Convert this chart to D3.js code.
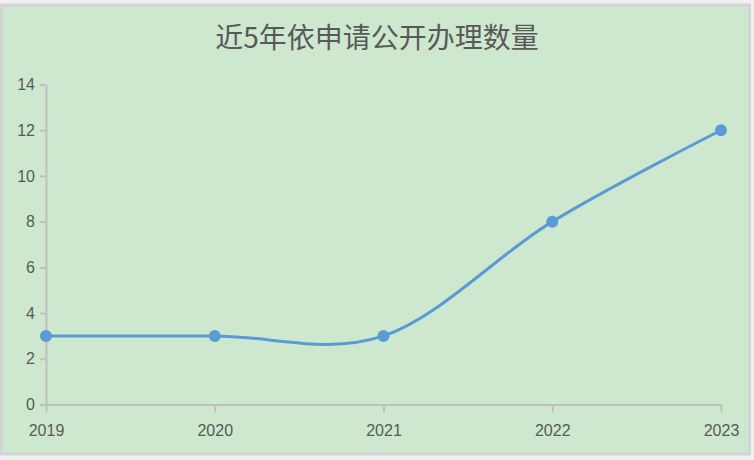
<!DOCTYPE html>
<html>
<head>
<meta charset="utf-8">
<script src="https://cdn.jsdelivr.net/npm/d3@7"></script>
<style>
  html, body { margin: 0; padding: 0; background: #f0f0f2; }
  svg { display: block; }
</style>
</head>
<body>
<svg id="chart" width="754" height="460"></svg>
<script>
// data
var years = ["2019", "2020", "2021", "2022", "2023"];
var counts = [3, 3, 3, 8, 12];
var yTicks = [0, 2, 4, 6, 8, 10, 12, 14];
var title = "近5年依申请公开办理数量";

var svg = d3.select("#chart");

// panel
svg.append("rect")
    .attr("x", 1.5)
    .attr("y", 5)
    .attr("width", 748)
    .attr("height", 449)
    .attr("fill", "#cde8cf")
    .attr("stroke", "#d4d4d4")
    .attr("stroke-width", 3);

svg.append("text")
    .attr("x", 377)
    .attr("y", 48)
    .attr("text-anchor", "middle")
    .attr("fill", "#595959")
    .style("font-family", "'Noto Sans CJK SC', sans-serif")
    .style("font-size", "28px")
    .text(title);

var x = d3.scalePoint()
    .domain(years)
    .range([46, 721]);

var y = d3.scaleLinear()
    .domain([0, 14])
    .range([404.5, 84.5]);

var axisColor = "#bfbfbf";
var labelColor = "#595959";

var gy = svg.append("g")
    .attr("transform", "translate(46,0)")
    .call(d3.axisLeft(y).tickValues(yTicks).tickSize(6).tickPadding(5).tickSizeOuter(0));

var gx = svg.append("g")
    .attr("transform", "translate(0,404.5)")
    .call(d3.axisBottom(x).tickSize(8).tickPadding(12).tickSizeOuter(0));

[gx, gy].forEach(function(g) {
    g.attr("font-family", "'Liberation Sans', sans-serif").attr("font-size", 16);
    g.select(".domain").attr("stroke", axisColor).attr("stroke-width", 2);
    g.selectAll(".tick line").attr("stroke", axisColor).attr("stroke-width", 2);
    g.selectAll(".tick text").attr("fill", labelColor);
});

var pts = years.map(function(d, i) { return [x(d), y(counts[i])]; });

svg.append("path")
    .attr("d", d3.line().curve(d3.curveCardinal.tension(0))(pts))
    .attr("fill", "none")
    .attr("stroke", "#5b9bd5")
    .attr("stroke-width", 3)
    .attr("stroke-linecap", "round");

svg.selectAll("circle.pt")
    .data(pts)
    .enter().append("circle")
    .attr("class", "pt")
    .attr("cx", function(d) { return d[0]; })
    .attr("cy", function(d) { return d[1]; })
    .attr("r", 6)
    .attr("fill", "#5b9bd5");
</script>
</body>
</html>
